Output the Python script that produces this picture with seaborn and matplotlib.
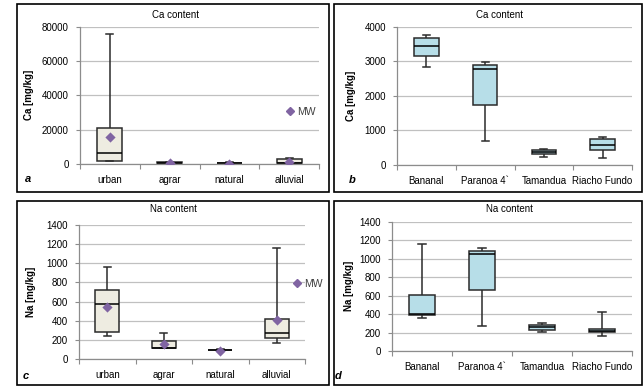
import numpy as np
import pandas as pd
import matplotlib
matplotlib.use("Agg")
import matplotlib.pyplot as plt
from matplotlib.patches import Rectangle
from matplotlib.lines import Line2D
import seaborn as sns

# ---------------- data ----------------
class_cats = ["urban", "agrar", "natural", "alluvial"]
site_cats = ["Bananal", "Paranoa 4`", "Tamandua", "Riacho Fundo"]

# Ca content by land use (a)
ca_class_min = [1500, 200, 100, 200]
ca_class_q1 = [1900, 400, 300, 500]
ca_class_med = [6200, 600, 500, 700]
ca_class_q3 = [21200, 900, 800, 2900]
ca_class_max = [75700, 1000, 900, 3400]
ca_class_mean = [15900, 500, 200, 1000]

# Ca content by site (b)
ca_site_min = [2820, 700, 240, 210]
ca_site_q1 = [3140, 1745, 330, 445]
ca_site_med = [3440, 2770, 390, 590]
ca_site_q3 = [3660, 2890, 440, 760]
ca_site_max = [3770, 2990, 450, 800]

# Na content by land use (c)
na_class_min = [235, 108, 88, 160]
na_class_q1 = [283, 108, 90, 213]
na_class_med = [572, 115, 92, 272]
na_class_q3 = [718, 190, 95, 418]
na_class_max = [958, 273, 97, 1157]
na_class_mean = [540, 157, 84, 404]

# Na content by site (d)
na_site_min = [361, 267, 202, 159]
na_site_q1 = [386, 664, 231, 202]
na_site_med = [404, 1054, 260, 217]
na_site_q3 = [607, 1082, 285, 242]
na_site_max = [1157, 1110, 307, 426]

ca_class_ticks = [0, 20000, 40000, 60000, 80000]
ca_site_ticks = [0, 1000, 2000, 3000, 4000]
na_ticks = [0, 200, 400, 600, 800, 1000, 1200, 1400]

titles = ["Ca content", "Ca content", "Na content", "Na content"]
ylabels = ["Ca [mg/kg]", "Ca [mg/kg]", "Na [mg/kg]", "Na [mg/kg]"]
panel_letters = ["a", "b", "c", "d"]
legend_label = "MW"

# ---------------- style ----------------
FONT = ["Liberation Sans", "DejaVu Sans"]
plt.rcParams["font.family"] = FONT
plt.rcParams["font.size"] = 7

BEIGE = "#EEECE1"
BLUE = "#B7DEE8"
PURPLE = "#8064A2"
GRID = "#C0C0C0"
AXIS = "#8C8C8C"
EDGE = "#2B2B2B"

W, H = 644, 387
fig = plt.figure(figsize=(W / 100, H / 100), dpi=100)


def fx(px):
    return px / W


def fy(py):
    return 1 - py / H


def add_ax(l, t, r, b):
    return fig.add_axes([fx(l), fy(b), (r - l) / W, (b - t) / H])


def long_frame(cats, mins, q1s, meds, q3s, maxs):
    rows = []
    for c, a, b, m, d, e in zip(cats, mins, q1s, meds, q3s, maxs):
        for v in (a, b, m, d, e):
            rows.append({"cat": c, "val": v})
    return pd.DataFrame(rows)


def draw_panel(ax, cats, stats, fill, ticks, means=None):
    df = long_frame(cats, *stats)
    sns.boxplot(data=df, x="cat", y="val", order=cats, ax=ax, whis=(0, 100),
                color=fill, saturation=1, width=0.42, linecolor=EDGE,
                linewidth=1.1, showfliers=False, capwidths=0.12,
                medianprops=dict(color="black", linewidth=1.1))
    if means is not None:
        mdf = pd.DataFrame({"cat": cats, "val": means})
        sns.stripplot(data=mdf, x="cat", y="val", order=cats, ax=ax,
                      jitter=False, marker="D", color=PURPLE, size=5.2,
                      linewidth=0, zorder=6, legend=False)
    ax.set_xlim(-0.5, len(cats) - 0.5)
    ax.set_ylim(ticks[0], ticks[-1])
    ax.set_yticks(ticks)
    ax.set_yticklabels([str(t) for t in ticks])
    ax.set_xticks(range(len(cats)))
    ax.set_xticks(np.arange(-0.5, len(cats)), minor=True)
    ax.tick_params(axis="x", which="major", length=0, pad=8, labelsize=7)
    ax.tick_params(axis="x", which="minor", length=3.5, color=AXIS, width=0.8)
    ax.tick_params(axis="y", length=3, color=AXIS, width=0.8, pad=5, labelsize=7)
    ax.set_xlabel("")
    ax.yaxis.grid(True, color=GRID, linewidth=0.9)
    ax.set_axisbelow(True)
    for s in ("top", "right"):
        ax.spines[s].set_visible(False)
    for s in ("left", "bottom"):
        ax.spines[s].set_color(AXIS)
        ax.spines[s].set_linewidth(0.9)
    ax.set_facecolor("white")


# panel borders
for (l, t, r, b) in [(17, 4.5, 329, 192.5), (334, 4.5, 642, 192.5),
                     (17, 200.5, 329, 385), (334, 200.5, 642, 385)]:
    fig.add_artist(Rectangle((fx(l), fy(b)), (r - l) / W, (b - t) / H,
                             transform=fig.transFigure, fill=False,
                             edgecolor="black", linewidth=1.2))

ax_a = add_ax(80, 26.7, 319, 164)
ax_b = add_ax(397, 26.7, 632, 165)
ax_c = add_ax(79, 225.3, 305, 358.7)
ax_d = add_ax(392, 221.7, 632, 351)

draw_panel(ax_a, class_cats,
           (ca_class_min, ca_class_q1, ca_class_med, ca_class_q3, ca_class_max),
           BEIGE, ca_class_ticks, ca_class_mean)
draw_panel(ax_b, site_cats,
           (ca_site_min, ca_site_q1, ca_site_med, ca_site_q3, ca_site_max),
           BLUE, ca_site_ticks)
draw_panel(ax_c, class_cats,
           (na_class_min, na_class_q1, na_class_med, na_class_q3, na_class_max),
           BEIGE, na_ticks, na_class_mean)
draw_panel(ax_d, site_cats,
           (na_site_min, na_site_q1, na_site_med, na_site_q3, na_site_max),
           BLUE, na_ticks)

axes = [ax_a, ax_b, ax_c, ax_d]
axis_left = [80, 397, 79, 392]
axis_right_px = [319, 632, 305, 632]
ylabel_center = [30, 351, 32, 349]
title_pos = [(175, 15), (499, 15), (173, 209), (509, 209)]
letter_pos = [(28, 179), (352, 180), (26, 376), (338, 376)]

for ax, yl, left, right, yc, tp, lp, title, letter in zip(
        axes, ylabels, axis_left, axis_right_px, ylabel_center, title_pos,
        letter_pos, titles, panel_letters):
    ax.set_ylabel(yl, fontsize=7, fontweight="bold")
    ax.yaxis.set_label_coords((yc + 4.5 - left) / (right - left), 0.5)
    fig.text(fx(tp[0]), fy(tp[1]), title, ha="center", va="center", fontsize=7)
    fig.text(fx(lp[0]), fy(lp[1]), letter, ha="center", va="center",
             fontsize=8, fontweight="bold", fontstyle="italic")

# MW legends
for ax, (lx, ly) in [(ax_a, (286, 112)), (ax_c, (293, 283.7))]:
    h = Line2D([], [], marker="D", linestyle="", color=PURPLE, markersize=3.6)
    leg = ax.legend(handles=[h], labels=[legend_label], frameon=False,
                    loc="center left", bbox_to_anchor=(fx(lx), fy(ly)),
                    bbox_transform=fig.transFigure, borderpad=0,
                    borderaxespad=0, handlelength=0.8, handletextpad=0.3,
                    fontsize=7.5)
    for t in leg.get_texts():
        t.set_color("#404040")

fig.savefig("out.png", dpi=100, facecolor="white")
